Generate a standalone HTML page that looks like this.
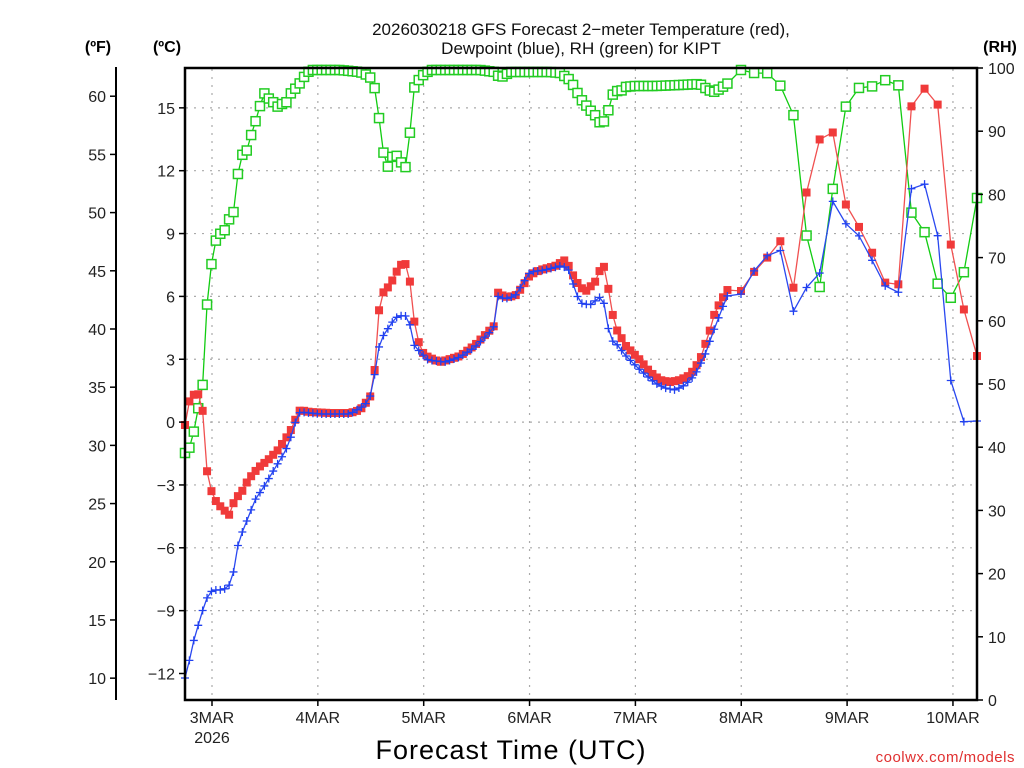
<!DOCTYPE html>
<html><head><meta charset="utf-8"><style>
html,body{margin:0;padding:0;background:#fff;}
svg{display:block;font-family:"Liberation Sans",sans-serif;}
</style></head><body>
<svg id="s" width="1024" height="768" xmlns="http://www.w3.org/2000/svg">
<rect width="1024" height="768" fill="#fff"/>
<g id="grid" stroke="#aaa" stroke-width="1.2" stroke-dasharray="2,6"></g>
<g id="data"></g>
<g fill="none" stroke="#000">
<rect x="185" y="68" width="792" height="632" stroke-width="2.5"/>
<line x1="116" y1="67" x2="116" y2="700" stroke-width="2"/>
</g>
<g id="ticks" stroke="#000" stroke-width="1.5"></g>
<g id="labels" font-size="16" fill="#222"></g>
<text x="581" y="35" font-size="17" text-anchor="middle" fill="#111">2026030218 GFS Forecast 2−meter Temperature (red),</text>
<text x="581" y="54" font-size="17" text-anchor="middle" fill="#111">Dewpoint (blue), RH (green) for KIPT</text>
<text x="98" y="52" font-size="16" font-weight="bold" text-anchor="middle">(ºF)</text>
<text x="167" y="52" font-size="16" font-weight="bold" text-anchor="middle">(ºC)</text>
<text x="1000" y="52" font-size="16" font-weight="bold" text-anchor="middle">(RH)</text>
<text x="511" y="759" font-size="27" text-anchor="middle" fill="#000" letter-spacing="1">Forecast Time (UTC)</text>
<text x="1015" y="762" font-size="15" text-anchor="end" fill="#e03030" letter-spacing="0.5">coolwx.com/models</text>
</svg>
<script>
const NS="http://www.w3.org/2000/svg";
function el(p,t,a){const e=document.createElementNS(NS,t);for(const k in a)e.setAttribute(k,a[k]);p.appendChild(e);return e;}
const g=document.getElementById('grid'),tk=document.getElementById('ticks'),lb=document.getElementById('labels'),d=document.getElementById('data');
const days=['3MAR','4MAR','5MAR','6MAR','7MAR','8MAR','9MAR','10MAR'];
days.forEach((t,i)=>{const x=212+i*105.85;el(g,'line',{x1:x,y1:69,x2:x,y2:699});el(tk,'line',{x1:x,y1:700,x2:x,y2:706});
const tx=el(lb,'text',{x:x,y:723,'text-anchor':'middle'});tx.textContent=t;});
{const tx=el(lb,'text',{x:212,y:743,'text-anchor':'middle'});tx.textContent='2026';}
for(let i=0;i<10;i++){const c=-12+3*i;const y=673.5-i*62.85;
 if(i>0)el(g,'line',{x1:186,y1:y,x2:976,y2:y});
 el(tk,'line',{x1:179,y1:y,x2:185,y2:y});
 const tx=el(lb,'text',{x:175,y:y+6,'text-anchor':'end'});tx.textContent=(c<0?'−':'')+Math.abs(c);}
for(let i=0;i<11;i++){const f=10+5*i;const c=(f-32)*5/9;const y=673.5-(c+12)/3*62.85;
 el(tk,'line',{x1:110,y1:y,x2:116,y2:y});
 const tx=el(lb,'text',{x:106,y:y+6,'text-anchor':'end'});tx.textContent=f;}
for(let i=0;i<=10;i++){const y=700-i*63.2;
 el(tk,'line',{x1:977,y1:y,x2:983,y2:y});
 const tx=el(lb,'text',{x:988,y:y+6});tx.textContent=i*10;}
const xs=[];for(let h=0;h<=123;h++)xs.push(185+h*4.41);for(let i=0;i<=18;i++)xs.push(741+i*(977-741)/18);
function interp(k,x){for(let i=0;i<k.length-1;i++){if(x<=k[i+1][0]+0.001){const t=(x-k[i][0])/(k[i+1][0]-k[i][0]);return k[i][1]+t*(k[i+1][1]-k[i][1]);}}return k[k.length-1][1];}
function P(a){const r=[];for(let i=0;i<a.length;i+=2)r.push([a[i],a[i+1]]);return r;}
const red=P([185,425,189,402,195,393,200,395,203,413,207,471,211,490,215,500,220,506,225,511,229,515,233,504,238,496,243,490,248,480,258,468,268,460,278,450,290,432,296,418,300,410,310,412,330,413,350,413,360,410,368,400,373,392,375,365,378,316,382,294,390,285,395,275,400,265,406,264,410,282,414,320,418,340,422,352,428,357,440,362,460,356,475,345,490,330,495,325,497,292,505,297,515,296,520,290,530,275,540,270,555,266,565,260,570,268,575,280,585,292,595,282,600,270,605,266,610,300,615,327,620,335,625,345,640,360,650,372,660,380,670,382,680,380,690,375,700,360,710,330,715,312,727,290,741,291,754,272,767,258,779,236,793,291,806,195,818,141,832,128,845,203,858,225,871,250,884,282,898,289,911,107,924,88,938,105,951,247,964,310,977,356]);
const blue=P([185,678,190,658,195,635,200,620,205,602,210,592,215,590,220,590,228,588,233,575,238,545,243,530,248,518,255,500,265,485,275,468,285,452,290,440,296,420,300,412,320,414,350,414,365,405,372,393,375,372,380,341,385,333,395,318,400,316,405,315,410,325,414,345,420,352,428,360,445,362,460,357,475,347,490,332,495,325,497,296,505,299,515,296,525,280,530,272,545,270,560,266,568,268,575,290,580,303,590,305,600,297,605,305,610,340,615,342,625,355,640,370,655,383,665,388,675,390,685,385,695,375,705,355,712,335,727,296,741,294,754,271,767,256,779,244,793,312,806,288,819,277,832,200,845,223,858,234,871,258,884,285,898,295,911,189,924,182,938,237,951,383,964,422,977,421]);
const grn=P([185,453,189,449,193,436,196,420,203,383,207,305,211,267,215,242,220,234,225,230,230,217,235,210,238,173,243,152,248,150,252,131,256,120,260,106,263,101,265,90,269,99,273,102,278,107,282,104,287,102,291,93,295,89,300,83,304,77,308,72,312,70,320,70,340,70,360,72,365,74,370,77,375,89,380,125,384,157,388,167,392,157,396,155,400,160,405,171,410,132,414,88,418,81,422,76,430,70,450,70,480,70,495,72,500,78,510,72,550,72,560,73,570,80,575,88,580,98,585,104,590,110,595,115,600,123,605,121,610,105,614,90,620,92,625,87,635,86,655,86,680,85,700,84,708,90,715,92,727,84,741,70,754,73,767,73,779,83,793,111,806,233,819,292,832,194,845,108,858,88,871,87,884,80,898,82,911,212,924,230,938,285,951,298,964,272,977,198]);
function series(k,col,mk){const pts=xs.map(x=>[x,interp(k,x)]);
 el(d,'polyline',{points:pts.map(p=>p.join(',')).join(' '),fill:'none',stroke:col,'stroke-width':1.3});
 pts.forEach(([x,y])=>{
  if(mk=='fs')el(d,'rect',{x:x-4,y:y-4,width:8,height:8,fill:'#f03a3a'});
  else if(mk=='os')el(d,'rect',{x:x-4.5,y:y-4.5,width:9,height:9,fill:'#fff',stroke:'#22cc22','stroke-width':1.5});
  else{el(d,'path',{d:`M${x-4},${y}H${x+4}M${x},${y-4}V${y+4}`,stroke:'#2040f0','stroke-width':1.3});}
 });}
series(grn,'#11cc11','os');
series(red,'#f05050','fs');
series(blue,'#2a48f0','pl');
</script>
</body></html>
